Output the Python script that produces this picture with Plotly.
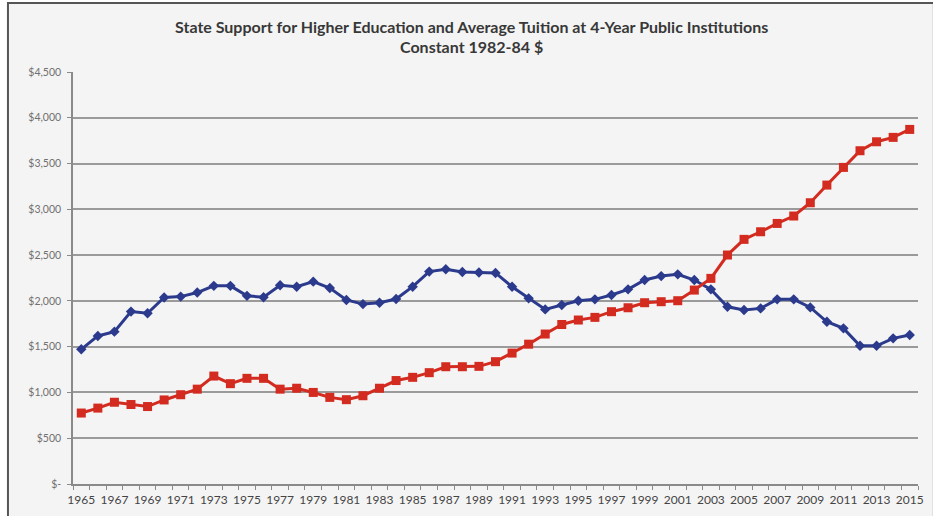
import plotly.graph_objects as go

years = list(range(1965, 2016))

state_support = [1471, 1617, 1664, 1883, 1865, 2037, 2047, 2091, 2164, 2164,
                 2055, 2040, 2170, 2155, 2210, 2140, 2010, 1965, 1980, 2020,
                 2155, 2320, 2345, 2315, 2310, 2305, 2155, 2028, 1907, 1955,
                 2002, 2017, 2064, 2126, 2228, 2271, 2290, 2228, 2126, 1936,
                 1900, 1918, 2017, 2017, 1929, 1772, 1700, 1510, 1510, 1591,
                 1627]

tuition = [775, 829, 893, 868, 846, 918, 975, 1036, 1179, 1096,
           1154, 1154, 1036, 1046, 1000, 946, 921, 964, 1046, 1130,
           1165, 1216, 1281, 1281, 1285, 1336, 1430, 1527, 1638, 1742,
           1791, 1820, 1882, 1925, 1980, 1991, 2002, 2118, 2246, 2501,
           2672, 2755, 2846, 2927, 3072, 3265, 3458, 3640, 3738, 3786,
           3873]

y_tickvals = [0, 500, 1000, 1500, 2000, 2500, 3000, 3500, 4000, 4500]
y_ticktext = ["$-", "$500", "$1,000", "$1,500", "$2,000", "$2,500",
              "$3,000", "$3,500", "$4,000", "$4,500"]
x_tickvals = list(range(1965, 2016, 2))

title_line1 = "State Support for Higher Education and Average Tuition at 4-Year Public Institutions"
title_line2 = "Constant 1982-84 $"

FONT = "Lato"

fig = go.Figure()
fig.add_trace(go.Scatter(
    x=years, y=state_support, mode="lines+markers",
    line=dict(color="#2B3A8C", width=3),
    marker=dict(symbol="diamond", size=8, color="#2B3A8C"),
    showlegend=False, hoverinfo="skip"))
fig.add_trace(go.Scatter(
    x=years, y=tuition, mode="lines+markers",
    line=dict(color="#D32B1F", width=3),
    marker=dict(symbol="square", size=9, color="#D32B1F"),
    showlegend=False, hoverinfo="skip"))

L, R, T, B = 73, 9, 72, 32
W, H = 933, 516
pw, ph = W - L - R, H - T - B

def px_x(px):
    return (px - L) / pw

def px_y(py):
    return (H - B - py) / ph

fig.add_shape(type="rect", xref="paper", yref="paper",
              x0=px_x(7.5), x1=px_x(940), y0=px_y(530), y1=px_y(3),
              fillcolor="#F4F4F4", line=dict(color="#555555", width=2),
              layer="below")

fig.add_annotation(xref="paper", yref="paper", x=px_x(474), y=px_y(27),
                   text="<b>" + title_line1 + "</b>", showarrow=False,
                   font=dict(family=FONT, size=16, color="#383838"),
                   xanchor="center", yanchor="middle")
fig.add_annotation(xref="paper", yref="paper", x=px_x(474), y=px_y(47),
                   text="<b>" + title_line2 + "</b>", showarrow=False,
                   font=dict(family=FONT, size=16, color="#383838"),
                   xanchor="center", yanchor="middle")

fig.update_layout(
    width=W, height=H,
    margin=dict(l=L, r=R, t=T, b=B),
    paper_bgcolor="white", plot_bgcolor="rgba(0,0,0,0)",
    font=dict(family=FONT, color="#555555"),
)
fig.update_xaxes(
    range=[1964.5, 2015.5], tickmode="array", tickvals=x_tickvals,
    ticktext=[str(v) for v in x_tickvals], ticks="",
    tickfont=dict(size=12, color="#444444"), ticklabelstandoff=4,
    showgrid=False, zeroline=False,
    showline=True, linecolor="#8A8A8A", linewidth=1.5,
    minor=dict(ticks="outside", tick0=1964.5, dtick=1, ticklen=4,
               tickcolor="#8A8A8A", showgrid=False),
)
fig.update_yaxes(
    range=[0, 4500], tickmode="array", tickvals=y_tickvals, ticktext=y_ticktext,
    ticks="outside", ticklen=4, tickcolor="#8A8A8A",
    tickfont=dict(size=10.5, color="#707070"), ticklabelstandoff=4,
    showgrid=True, gridcolor="#9A9A9A", gridwidth=1.5,
    zeroline=False, showline=True, linecolor="#8A8A8A", linewidth=1.5,
)

fig.write_html("out.html", config={"displayModeBar": False},
               post_script="document.body.style.margin='0';document.body.style.overflow='hidden';")
